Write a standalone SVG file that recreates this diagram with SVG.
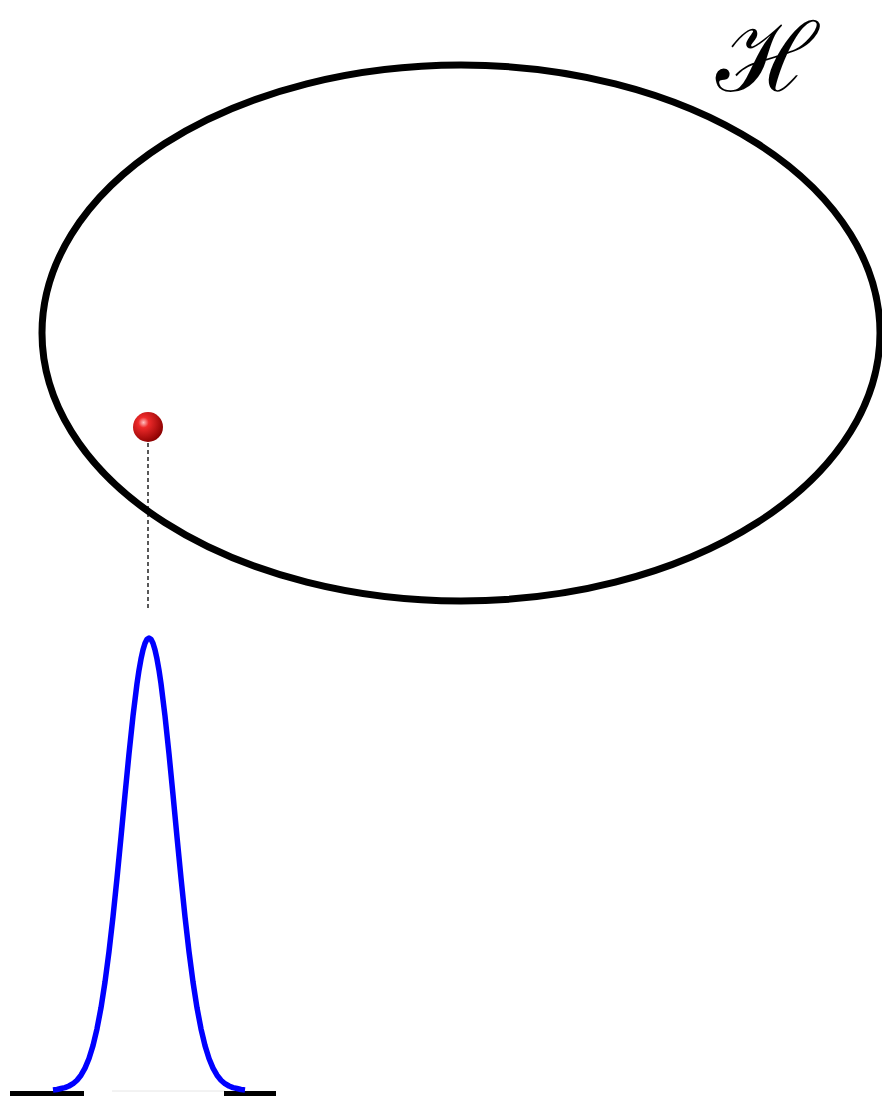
<svg xmlns="http://www.w3.org/2000/svg" width="882" height="1099" viewBox="0 0 882 1099">
<defs>
<radialGradient id="ball" cx="0.35" cy="0.35" r="0.7">
<stop offset="0" stop-color="#ffc0c0"/>
<stop offset="0.25" stop-color="#ee2a2a"/>
<stop offset="1" stop-color="#8a0000"/>
</radialGradient>
<style>
.space{fill:none;stroke:#000;stroke-width:7}
.gauss{fill:none;stroke:#0000ff;stroke-width:5.5;stroke-linejoin:round}
.base{stroke:#000;stroke-width:5}
.dash{stroke:#000;stroke-width:1.3;stroke-dasharray:4 3}
.lbl{font-family:"DejaVu Serif",serif;font-style:normal;font-size:96px;fill:#000}
</style>
</defs>
<g id="hilbert-space">
<ellipse class="space" cx="461" cy="333" rx="419" ry="268"/>
<text class="lbl" x="716" y="91">ℋ</text>
</g>
<g id="connectors">
<line class="dash" x1="148" y1="443" x2="148" y2="610"/>
</g>
<g id="state">
<circle cx="148" cy="427" r="15" fill="url(#ball)"/>
</g>
<g id="distribution">
<line class="base" x1="10" y1="1093.5" x2="84" y2="1093.5"/>
<line x1="112" y1="1091" x2="225" y2="1091" stroke="#e6e6e6" stroke-width="1"/>
<line class="base" x1="224" y1="1093.5" x2="276" y2="1093.5"/>
<path class="gauss" d="M53,1090 L57,1089.5 L61,1088.5 L65,1087.6 L69,1086 L73,1083.7 L77,1080.2 L81,1075.2 L85,1068.1 L89,1058.5 L93,1045.6 L97,1028.8 L101,1007.8 L105,982 L109,951.6 L113,916.7 L117,878.1 L121,836.9 L125,794.8 L129,753.8 L133,716 L137,683.7 L139,670.2 L141,658.9 L143,649.9 L145,643.3 L147,639.3 L149,638 L151,639.3 L153,643.3 L155,649.9 L157,658.9 L159,670.2 L161,683.7 L165,716 L169,753.8 L173,794.8 L177,836.9 L181,878.1 L185,916.7 L189,951.6 L193,982 L197,1007.8 L201,1028.8 L205,1045.6 L209,1058.5 L213,1068.1 L217,1075.2 L221,1080.2 L225,1083.7 L229,1086 L233,1087.6 L237,1088.5 L241,1089.5 L245,1090"/>
</g>
</svg>
